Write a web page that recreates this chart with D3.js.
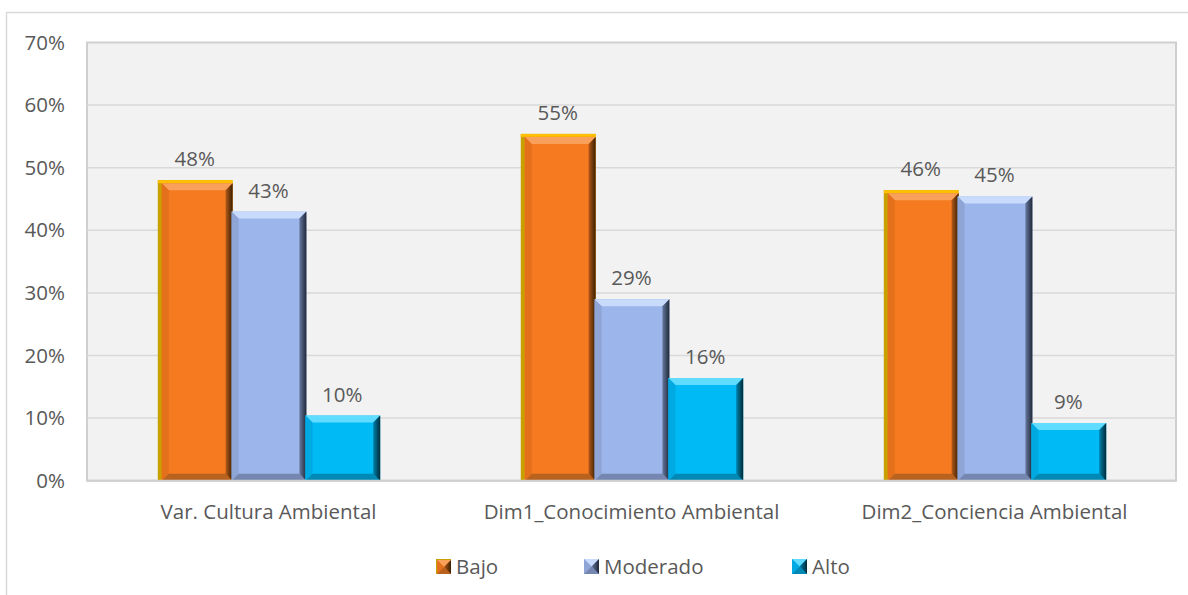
<!DOCTYPE html>
<html>
<head>
<meta charset="utf-8">
<script src="https://cdn.jsdelivr.net/npm/d3@7"></script>
<style>
  body { margin: 0; background: #ffffff; }
  text { font-family: "Open Sans", "Noto Sans", sans-serif; fill: #595959; }
</style>
</head>
<body>
<div id="chart-div"></div>
<script>
// chart data
var categories = ["Var. Cultura Ambiental", "Dim1_Conocimiento Ambiental", "Dim2_Conciencia Ambiental"];
var series = ["Bajo", "Moderado", "Alto"];
var bajo = [48.0, 55.4, 46.4];
var moderado = [43.0, 29.0, 45.4];
var alto = [10.4, 16.4, 9.2];
var y_ticks = [0, 10, 20, 30, 40, 50, 60, 70];

var fn = {};
var vars = {};

vars.width = 1188;
vars.height = 595;
vars.font_size = "20.5px";
vars.plot = { left: 87, right: 1176, top: 42.5, bottom: 480.7 };

// colours for the bevelled bars
vars.styles = {
  Bajo: { body: "#f67a1f", top: "#f9a05a", left: "#e4701c", right: "#b3591a", edge: "#3a2000", bottom: "#b8621e", frameLeft: "#c8a000", frameTop: "#ffc000" },
  Moderado: { body: "#9cb5ea", top: "#c9dbfc", left: "#8ea5d6", right: "#66789f", edge: "#202838", bottom: "#7587b0" },
  Alto: { body: "#00baf5", top: "#5fdcff", left: "#00a9e2", right: "#0082ad", edge: "#002a38", bottom: "#0089b5" }
};

vars.values = { Bajo: bajo, Moderado: moderado, Alto: alto };

fn.bevel = function(g, x, y, w, h, st, b) {
  var pts = {
    top: [[x, y], [x + w, y], [x + w - b, y + b], [x + b, y + b]],
    left: [[x, y], [x + b, y + b], [x + b, y + h - b], [x, y + h]],
    bottom: [[x, y + h], [x + b, y + h - b], [x + w - b, y + h - b], [x + w, y + h]]
  };
  g.append("rect")
    .attr("x", x).attr("y", y).attr("width", w).attr("height", h)
    .attr("fill", st.body);
  g.append("polygon").attr("points", pts.top.join(" ")).attr("fill", st.top);
  g.append("polygon").attr("points", pts.left.join(" ")).attr("fill", st.left);
  g.append("polygon").attr("points", pts.bottom.join(" ")).attr("fill", st.bottom);
  g.append("polygon")
    .attr("points", [[x + w, y], [x + w, y + h], [x + w - b, y + h - b], [x + w - b, y + b]].join(" "))
    .attr("fill", "url(#grad-" + st.key + ")");
};

fn.main = function() {
  var svg = d3.select("#chart-div").append("svg")
    .attr("width", vars.width)
    .attr("height", vars.height);

  var defs = svg.append("defs");
  series.forEach(function(s) {
    var st = vars.styles[s];
    st.key = s;
    var grad = defs.append("linearGradient")
      .attr("id", "grad-" + s)
      .attr("x1", "0").attr("x2", "1").attr("y1", "0").attr("y2", "0");
    grad.append("stop").attr("offset", "0%").attr("stop-color", st.right);
    grad.append("stop").attr("offset", "100%").attr("stop-color", st.edge);
  });

  // outer chart border
  svg.append("rect")
    .attr("x", 6.5).attr("y", 12.5)
    .attr("width", 1200).attr("height", 600)
    .attr("fill", "none")
    .attr("stroke", "#d9d9d9")
    .attr("stroke-width", 1.5);

  var p = vars.plot;

  var x0 = d3.scaleBand()
    .domain(categories)
    .range([p.left, p.right])
    .paddingInner(0.39)
    .paddingOuter(0.195);

  var x1 = d3.scaleBand()
    .domain(series)
    .range([0, x0.bandwidth()]);

  var y = d3.scaleLinear()
    .domain([0, 70])
    .range([p.bottom, p.top]);

  // plot area
  svg.append("rect")
    .attr("x", p.left).attr("y", p.top)
    .attr("width", p.right - p.left).attr("height", p.bottom - p.top)
    .attr("fill", "#f2f2f2")
    .attr("stroke", "#cfcfcf")
    .attr("stroke-width", 2);

  // gridlines
  svg.append("g")
    .selectAll("line")
    .data(y_ticks.filter(function(t) { return t > 0 && t < 70; }))
    .enter().append("line")
    .attr("x1", p.left).attr("x2", p.right)
    .attr("y1", function(d) { return y(d); })
    .attr("y2", function(d) { return y(d); })
    .attr("stroke", "#d9d9d9")
    .attr("stroke-width", 1.5);

  // y axis labels
  var y_axis = svg.append("g")
    .attr("transform", "translate(" + (p.left - 22) + ",0)")
    .call(d3.axisLeft(y).tickValues(y_ticks).tickSize(0).tickPadding(0)
      .tickFormat(function(d) { return d + "%"; }));
  y_axis.select(".domain").remove();
  y_axis.selectAll("text")
    .style("font-family", "'Open Sans', sans-serif")
    .style("font-size", vars.font_size)
    .attr("fill", "#595959");

  // bars
  var bars = svg.append("g");
  series.forEach(function(s) {
    var st = vars.styles[s];
    vars.values[s].forEach(function(v, i) {
      var bx = x0(categories[i]) + x1(s);
      var bw = x1.bandwidth() + 1;
      var by = y(v);
      var bh = y(0) - by;
      var g = bars.append("g");
      if (st.frameLeft) {
        g.append("rect").attr("x", bx).attr("y", by).attr("width", bw).attr("height", bh)
          .attr("fill", st.frameLeft);
        g.append("rect").attr("x", bx).attr("y", by).attr("width", bw).attr("height", 3)
          .attr("fill", st.frameTop);
        fn.bevel(g, bx + 4, by + 3, bw - 4, bh - 3, st, 7);
      } else {
        fn.bevel(g, bx, by, bw, bh, st, 7);
      }
    });
  });

  // data labels
  series.forEach(function(s) {
    vars.values[s].forEach(function(v, i) {
      svg.append("text")
        .attr("x", x0(categories[i]) + x1(s) + x1.bandwidth() / 2)
        .attr("y", y(v) - 14)
        .attr("text-anchor", "middle")
        .style("font-size", vars.font_size)
        .text(Math.round(v) + "%");
    });
  });

  // baseline
  svg.append("line")
    .attr("x1", p.left).attr("x2", p.right)
    .attr("y1", p.bottom).attr("y2", p.bottom)
    .attr("stroke", "#d0d0d0").attr("stroke-width", 2);

  // category labels
  svg.append("g").selectAll("text")
    .data(categories)
    .enter().append("text")
    .attr("x", function(d) { return x0(d) + x0.bandwidth() / 2; })
    .attr("y", 519)
    .attr("text-anchor", "middle")
    .style("font-size", vars.font_size)
    .text(function(d) { return d; });

  // legend
  var legend_x = [436, 584, 792];
  var legend = svg.append("g");
  series.forEach(function(s, i) {
    var st = vars.styles[s];
    var g = legend.append("g");
    var lx = legend_x[i], ly = 559;
    if (st.frameLeft) {
      g.append("rect").attr("x", lx).attr("y", ly).attr("width", 15).attr("height", 15).attr("fill", st.frameLeft);
      fn.bevel(g, lx + 1, ly + 1, 14, 14, st, 7);
    } else {
      fn.bevel(g, lx, ly, 15, 15, st, 7.5);
    }
    g.append("text")
      .attr("x", lx + 20)
      .attr("y", ly + 15)
      .style("font-size", vars.font_size)
      .text(s);
  });
};

fn.main();
</script>
</body>
</html>
